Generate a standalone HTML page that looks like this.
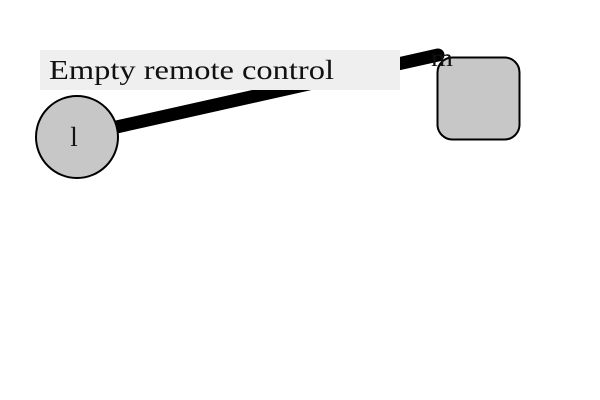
<!DOCTYPE html>
<html><head><style>body{margin:0;background:#fff}</style></head><body>
<svg width="600" height="400" xmlns="http://www.w3.org/2000/svg" style="display:block">
<line x1="112" y1="128" x2="438" y2="55" stroke="#000" stroke-width="13" stroke-linecap="round"/>
<rect x="437.5" y="57.5" width="82" height="82" rx="15" fill="#c7c7c7" stroke="#000" stroke-width="2"/>
<rect x="40" y="50" width="360" height="40" fill="#efefef"/>
<text x="49" y="79" font-family="Liberation Serif, serif" font-size="27" fill="#111" textLength="285" lengthAdjust="spacingAndGlyphs">Empty remote control</text>
<circle cx="77" cy="137" r="41" fill="#c7c7c7" stroke="#000" stroke-width="2"/>
<text x="74" y="146" font-family="Liberation Serif, serif" font-size="27" text-anchor="middle" fill="#111">l</text>
<text x="431" y="66" font-family="Liberation Serif, serif" font-size="25" fill="#111" textLength="22" lengthAdjust="spacingAndGlyphs">m</text>
</svg>
</body></html>
